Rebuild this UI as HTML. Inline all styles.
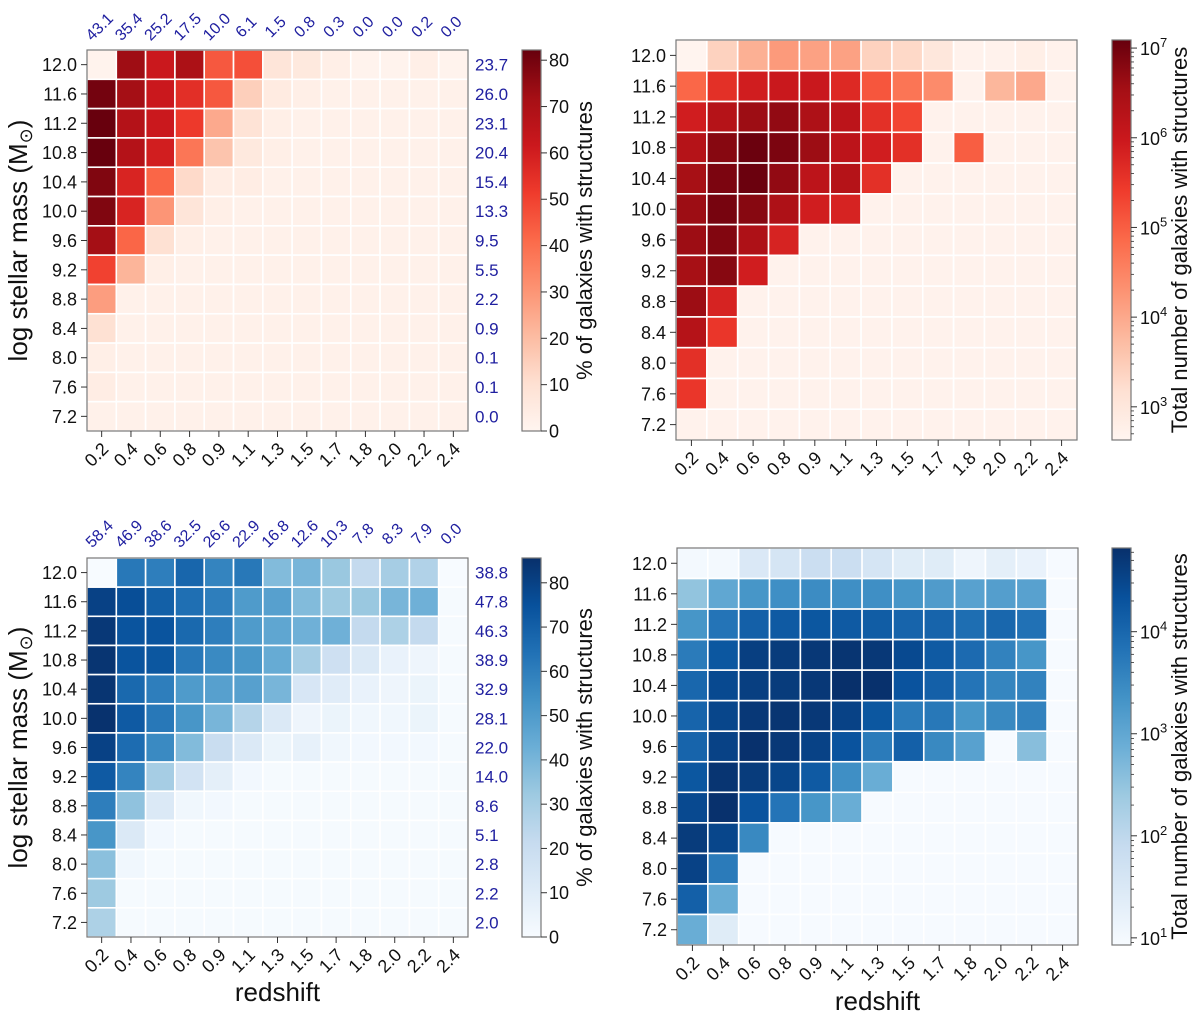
<!DOCTYPE html>
<html><head><meta charset="utf-8"><style>
html,body{margin:0;padding:0;background:#fff;}
svg{display:block;font-family:"Liberation Sans",sans-serif;}
</style></head><body>
<svg id="fig" width="1200" height="1024" viewBox="0 0 1200 1024"></svg>
<script>
const zBins = ['0.2','0.4','0.6','0.8','0.9','1.1','1.3','1.5','1.7','1.8','2.0','2.2','2.4'];
const massBins = ['12.0','11.6','11.2','10.8','10.4','10.0','9.6','9.2','8.8','8.4','8.0','7.6','7.2'];
const tlTopLabels = ['43.1','35.4','25.2','17.5','10.0','6.1','1.5','0.8','0.3','0.0','0.0','0.2','0.0'];
const tlRightLabels = ['23.7','26.0','23.1','20.4','15.4','13.3','9.5','5.5','2.2','0.9','0.1','0.1','0.0'];
const blTopLabels = ['58.4','46.9','38.6','32.5','26.6','22.9','16.8','12.6','10.3','7.8','8.3','7.9','0.0'];
const blRightLabels = ['38.8','47.8','46.3','38.9','32.9','28.1','22.0','14.0','8.6','5.1','2.8','2.2','2.0'];
const pctTicks = [0,10,20,30,40,50,60,70,80];
const trLogTicks = [3,4,5,6,7];
const brLogTicks = [1,2,3,4];
const tlPct = [
[1,73,62,70,45,47,8,6,3,1,1,3,1],
[80,72,62,55,45,15,5,3,2,2,2,2,2],
[82,68,62,52,25,9,3,2,2,2,2,2,2],
[82,68,60,38,18,6,3,2,2,2,2,2,2],
[78,58,42,12,4,4,2,2,2,2,2,2,2],
[78,58,30,8,3,2,2,2,2,2,2,2,2],
[72,42,10,3,2,2,2,2,2,2,2,2,2],
[50,22,3,2,2,2,2,2,2,2,2,2,2],
[28,2,2,2,2,2,2,2,2,2,2,2,2],
[10,2,2,2,2,2,2,2,2,2,2,2,2],
[3,2,2,2,2,2,2,2,2,2,2,2,2],
[4,2,2,2,2,2,2,2,2,2,2,2,2],
[2,2,2,2,2,2,2,2,2,2,2,2,2]];
const trLogCount = [
[2.65,3.4,3.9,4.2,4.1,4.1,3.4,3.3,3.0,2.7,2.7,2.8,2.7],
[4.9,5.6,5.9,6.0,6.0,5.7,5.1,4.7,4.4,2.7,3.8,4.0,2.7],
[5.9,6.3,6.6,6.7,6.4,6.2,5.6,5.3,2.7,2.7,2.7,2.7,2.7],
[6.3,6.8,7.05,6.9,6.6,6.2,5.9,5.6,2.7,5.0,2.7,2.7,2.7],
[6.5,6.9,7.05,6.7,6.2,6.3,5.6,2.7,2.7,2.7,2.7,2.7,2.7],
[6.6,6.95,6.8,6.4,5.9,5.8,2.7,2.7,2.7,2.7,2.7,2.7,2.7],
[6.6,6.85,6.4,5.8,2.7,2.7,2.7,2.7,2.7,2.7,2.7,2.7,2.7],
[6.5,6.8,5.9,2.7,2.7,2.7,2.7,2.7,2.7,2.7,2.7,2.7,2.7],
[6.6,5.8,2.7,2.7,2.7,2.7,2.7,2.7,2.7,2.7,2.7,2.7,2.7],
[6.3,5.5,2.7,2.7,2.7,2.7,2.7,2.7,2.7,2.7,2.7,2.7,2.7],
[5.6,2.7,2.7,2.7,2.7,2.7,2.7,2.7,2.7,2.7,2.7,2.7,2.7],
[5.5,2.7,2.7,2.7,2.7,2.7,2.7,2.7,2.7,2.7,2.7,2.7,2.7],
[2.7,2.7,2.7,2.7,2.7,2.7,2.7,2.7,2.7,2.7,2.7,2.7,2.7]];
const blPct = [
[0,62,60,68,58,62,38,40,33,22,30,27,0],
[80,76,70,65,60,50,48,38,32,33,40,42,1],
[83,74,74,67,60,50,46,42,42,22,28,22,1],
[84,74,73,62,56,52,44,30,18,12,6,4,1],
[84,67,60,50,48,48,40,14,10,6,4,5,1],
[85,72,62,52,40,26,12,4,5,3,3,5,1],
[80,66,56,38,20,12,5,7,3,2,2,2,1],
[72,58,30,16,8,2,1,1,1,1,1,1,1],
[60,35,12,3,2,1,1,1,1,1,1,1,1],
[52,12,2,1,1,1,1,1,1,1,1,1,1],
[36,3,1,1,1,1,1,1,1,1,1,1,1],
[32,1,1,1,1,1,1,1,1,1,1,1,1],
[28,1,1,1,1,1,1,1,1,1,1,1,1]];
const brLogCount = [
[1.0,1.0,1.5,1.6,1.8,1.8,1.6,1.4,1.4,1.1,1.3,1.2,0.95],
[2.5,3.0,3.3,3.4,3.45,3.4,3.4,3.3,3.2,3.1,3.15,3.1,0.95],
[3.3,3.8,4.1,4.2,4.25,4.2,4.15,4.05,4.05,3.9,4.0,3.85,0.95],
[3.7,4.25,4.6,4.65,4.7,4.75,4.7,4.45,4.2,3.95,3.6,3.3,0.95],
[4.0,4.45,4.6,4.65,4.7,4.82,4.8,4.3,4.1,3.8,3.55,3.6,0.95],
[4.05,4.5,4.7,4.75,4.7,4.55,4.25,3.7,3.75,3.3,3.5,3.6,0.95],
[4.05,4.55,4.8,4.7,4.55,4.3,3.7,4.1,3.5,3.1,0.95,2.6,0.95],
[4.25,4.75,4.65,4.5,4.2,3.4,2.9,0.95,0.95,0.95,0.95,0.95,0.95],
[4.45,4.8,4.3,3.8,3.3,2.9,0.95,0.95,0.95,0.95,0.95,0.95,0.95],
[4.65,4.5,3.5,0.95,0.95,0.95,0.95,0.95,0.95,0.95,0.95,0.95,0.95],
[4.55,3.7,0.95,0.95,0.95,0.95,0.95,0.95,0.95,0.95,0.95,0.95,0.95],
[4.1,2.9,0.95,0.95,0.95,0.95,0.95,0.95,0.95,0.95,0.95,0.95,0.95],
[2.9,1.4,0.95,0.95,0.95,0.95,0.95,0.95,0.95,0.95,0.95,0.95,0.95]];

const REDS=['#fff5f0','#fee0d2','#fcbba1','#fc9272','#fb6a4a','#ef3b2c','#cb181d','#a50f15','#67000d'];
const BLUES=['#f7fbff','#deebf7','#c6dbef','#9ecae1','#6baed6','#4292c6','#2171b5','#08519c','#08306b'];
function hex(h){return [1,3,5].map(i=>parseInt(h.substr(i,2),16));}
function cmap(stops,t){t=Math.max(0,Math.min(1,t));const p=t*(stops.length-1);const i=Math.min(Math.floor(p),stops.length-2);const f=p-i;const a=hex(stops[i]),b=hex(stops[i+1]);return 'rgb('+a.map((v,k)=>Math.round(v+(b[k]-v)*f)).join(',')+')';}
const NS='http://www.w3.org/2000/svg';
const svg=document.getElementById('fig');
function el(tag,attrs,parent,text){const e=document.createElementNS(NS,tag);for(const k in attrs)e.setAttribute(k,attrs[k]);if(text!==undefined)e.textContent=text;(parent||svg).appendChild(e);return e;}

function panel(cfg){
  const g=el('g',{});
  
  
  const cw=cfg.w/13,ch=cfg.h/13;
  const xs=i=>cfg.x+i*cw, ys=j=>cfg.y+j*ch;
  const norm=v=>(v-cfg.vmin)/(cfg.vmax-cfg.vmin);
  cfg.data.forEach((row,j)=>row.forEach((v,i)=>{
    const r=el('rect',{x:xs(i),y:ys(j),width:cw,height:ch,fill:cmap(cfg.stops,norm(v)),stroke:'#fff','stroke-width':1.6},g);
    
    
  }));
  el('rect',{x:cfg.x,y:cfg.y,width:cfg.w,height:cfg.h,fill:'none',stroke:'#777','stroke-width':1.2},g);
  massBins.forEach((m,j)=>{
    const yc=ys(j)+ch/2;
    el('line',{x1:cfg.x-6,x2:cfg.x,y1:yc,y2:yc,stroke:'#333'},g);
    const t=el('text',{x:cfg.x-10,y:yc+6.5,'text-anchor':'end','font-size':18,fill:'#111'},g,m);
    
    
  });
  zBins.forEach((z,i)=>{
    const xc=xs(i)+cw/2,yb=cfg.y+cfg.h;
    el('line',{x1:xc,x2:xc,y1:yb,y2:yb+6,stroke:'#333'},g);
    const t=el('text',{x:xc+8,y:yb+19,'text-anchor':'end','font-size':18,fill:'#111',transform:'rotate(-45 '+(xc+8)+' '+(yb+19)+')'},g,z);
    
    
  });
  if(cfg.top){
    cfg.top.forEach((s,i)=>{
      const xc=xs(i)+cw/2-2,yc=cfg.topY;
      const t=el('text',{x:xc,y:yc+5,'text-anchor':'middle','font-size':16,fill:'#2020a0',transform:'rotate(-45 '+xc+' '+yc+')'},g,s);
      
      
    });
    cfg.right.forEach((s,j)=>{
      const t=el('text',{x:cfg.x+cfg.w+7,y:ys(j)+ch/2+6,'font-size':17,fill:'#2020a0'},g,s);
      
      
    });
  }
  const id='grad-'+cfg.name;
  const gr=el('linearGradient',{id:id,x1:0,y1:1,x2:0,y2:0},g);
  cfg.stops.forEach((c,k)=>el('stop',{offset:k/(cfg.stops.length-1),'stop-color':c},gr));
  const cb=el('rect',{x:cfg.cbx,y:cfg.cby,width:19,height:cfg.cbh,fill:'url(#'+id+')',stroke:'#777','stroke-width':1.2},g);
  
  
  const cy=v=>cfg.cby+cfg.cbh-(v-cfg.vmin)/(cfg.vmax-cfg.vmin)*cfg.cbh;
  if(cfg.log){
    for(let d=Math.floor(cfg.vmin);d<=Math.ceil(cfg.vmax);d++){for(let m=2;m<10;m++){const v=d+Math.log10(m);if(v>cfg.vmin&&v<cfg.vmax){const y=cy(v);el('line',{x1:cfg.cbx+19,x2:cfg.cbx+22,y1:y,y2:y,stroke:'#333','stroke-width':0.8},g);}}}
    cfg.ticks.forEach(p=>{const y=cy(p);el('line',{x1:cfg.cbx+19,x2:cfg.cbx+25,y1:y,y2:y,stroke:'#333'},g);
      const t=el('text',{x:cfg.cbx+28,y:y+7,'font-size':18,fill:'#111'},g);
      
      
      el('tspan',{},t,'10');el('tspan',{dy:-8,'font-size':13},t,String(p));});
  } else {
    cfg.ticks.forEach(p=>{const y=cy(p);el('line',{x1:cfg.cbx+19,x2:cfg.cbx+25,y1:y,y2:y,stroke:'#333'},g);
      const t=el('text',{x:cfg.cbx+27,y:y+6.5,'font-size':18,fill:'#111'},g,String(p));
      
      });
  }
  const lx=cfg.cblx,ly=cfg.cby+cfg.cbh/2;
  const cl=el('text',{x:lx,y:ly,'text-anchor':'middle','font-size':22,fill:'#111',transform:'rotate(-90 '+lx+' '+ly+')'},g,cfg.cblabel);
  
  
  if(cfg.ylabel){
    const yx=27,yy=cfg.y+cfg.h/2;
    const yl=el('text',{x:yx,y:yy,'text-anchor':'middle','font-size':26,fill:'#111',transform:'rotate(-90 '+yx+' '+yy+')'},g);
    
    
    el('tspan',{},yl,'log stellar mass (M');el('tspan',{dy:5,'font-size':18},yl,'⊙');el('tspan',{dy:-5},yl,')');
  }
  if(cfg.xlabel){
    const xl=el('text',{x:cfg.x+cfg.w/2,y:cfg.xlabelY,'text-anchor':'middle','font-size':26,fill:'#111'},g,'redshift');
    
    
  }
}
panel({name:'percent-heatmap-red',x:87,y:50,w:381,h:381,data:tlPct,stops:REDS,vmin:0,vmax:82.2,ticks:pctTicks,cbx:522,cby:50,cbh:381,cblx:592,cblabel:'% of galaxies with structures',top:tlTopLabels,right:tlRightLabels,topY:27,ylabel:true});
panel({name:'count-heatmap-red',x:676,y:40,w:401,h:400,data:trLogCount,stops:REDS,vmin:2.63,vmax:7.09,log:true,ticks:trLogTicks,cbx:1112,cby:40,cbh:400,cblx:1187,cblabel:'Total number of galaxies with structures'});
panel({name:'percent-heatmap-blue',x:87,y:558,w:381,h:379,data:blPct,stops:BLUES,vmin:0,vmax:85.6,ticks:pctTicks,cbx:522,cby:558,cbh:379,cblx:592,cblabel:'% of galaxies with structures',top:blTopLabels,right:blRightLabels,topY:534,ylabel:true,xlabel:true,xlabelY:1001});
panel({name:'count-heatmap-blue',x:677,y:548,w:401,h:397,data:brLogCount,stops:BLUES,vmin:0.93,vmax:4.82,log:true,ticks:brLogTicks,cbx:1112,cby:548,cbh:397,cblx:1187,cblabel:'Total number of galaxies with structures',xlabel:true,xlabelY:1010});
</script>
</body></html>
